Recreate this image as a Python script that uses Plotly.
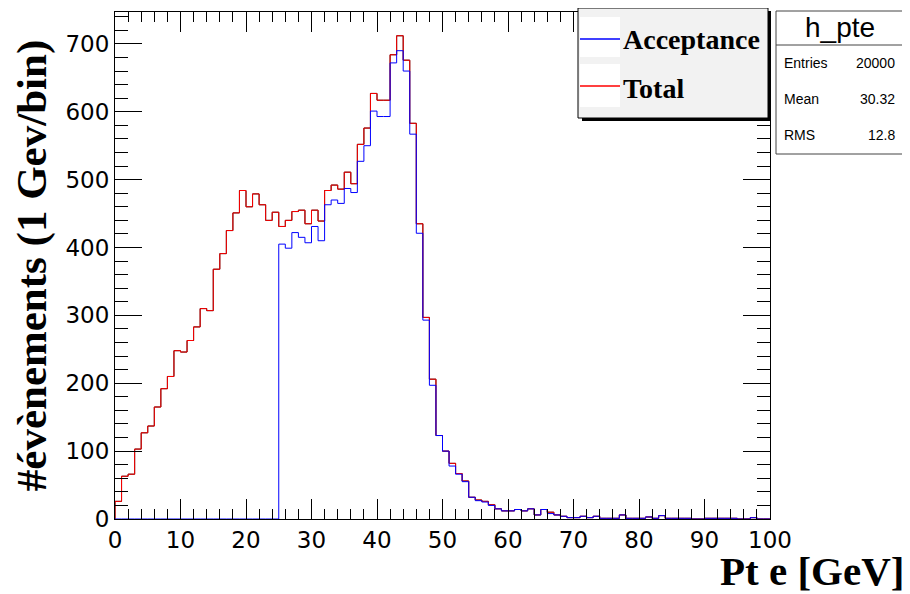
import numpy as np
import plotly.graph_objects as go

# ---- data (1 GeV bins from 0 to 100) ----
bin_low = 0
bin_width = 1
total = [26, 63, 66, 103, 127, 137, 165, 192, 210, 248,
         246, 263, 283, 310, 307, 368, 391, 425, 451, 484,
         460, 479, 463, 440, 452, 431, 440, 453, 455, 435,
         455, 439, 484, 492, 486, 511, 494, 552, 576, 627,
         617, 617, 684, 712, 676, 583, 435, 297, 206, 123,
         100, 82, 67, 56, 32, 28, 26, 21, 15, 12,
         12, 14, 12, 15, 6, 14, 10, 6, 4, 2,
         2, 4, 2, 4, 1, 1, 1, 6, 1, 1,
         1, 3, 1, 5, 1, 1, 1, 1, 0, 0,
         1, 1, 1, 1, 1, 0, 0, 2, 0, 0]
acceptance = [0, 0, 0, 0, 0, 0, 0, 0, 0, 0,
              0, 0, 0, 0, 0, 0, 0, 0, 0, 0,
              0, 0, 0, 0, 0, 405, 399, 422, 415, 407,
              431, 410, 463, 470, 465, 487, 481, 527, 550, 601,
              593, 593, 672, 690, 660, 567, 421, 293, 197, 123,
              100, 78, 66, 55, 32, 27, 25, 20, 15, 12,
              12, 14, 12, 15, 6, 14, 8, 6, 4, 2,
              2, 4, 2, 4, 1, 1, 1, 6, 1, 1,
              1, 3, 1, 5, 1, 1, 1, 1, 0, 0,
              1, 1, 1, 1, 1, 0, 0, 2, 0, 0]
series_names = ["Acceptance", "Total"]
stats_title = "h_pte"
stats_labels = ["Entries", "Mean", "RMS"]
stats_values = ["20000", "30.32", "12.8"]
x_title = "Pt e [GeV]"
y_title = "#évènements (1 Gev/bin)"


def step_xy(vals):
    n = len(vals)
    edges = bin_low + bin_width * np.arange(n + 1)
    xs = [edges[0]] + list(edges[:-1]) + [edges[-1], edges[-1]]
    ys = [0] + list(vals) + [vals[-1], 0]
    return xs, ys


fig = go.Figure()
xs, ys = step_xy(total)
fig.add_trace(go.Scatter(x=xs, y=ys, mode="lines", line=dict(color="black", width=1, shape="hv"),
                         showlegend=False, hoverinfo="skip"))
fig.add_trace(go.Scatter(x=xs, y=ys, mode="lines", line=dict(color="#ff0000", width=1, shape="hv"),
                         name=series_names[1], showlegend=False))
xa, ya = step_xy(acceptance)
fig.add_trace(go.Scatter(x=xa, y=ya, mode="lines", line=dict(color="#0000ff", width=1, shape="hv"),
                         name=series_names[0], showlegend=False))

# page offset (browser body margin)
OFF = 8
W, H = 910 - OFF, 594 - OFF
# frame in screenshot pixels
L, R, T, B = 115, 770, 12, 519


def px(X):
    return (X - L) / (R - L)


def py(Y):
    return (B - Y) / (B - T)


shapes = []
annotations = []
# legend box with shadow
shapes.append(dict(type="rect", xref="paper", yref="paper", x0=px(582), x1=px(771), y0=py(121), y1=py(11),
                   fillcolor="black", line=dict(width=0), layer="above"))
shapes.append(dict(type="rect", xref="paper", yref="paper", x0=px(578), x1=px(768), y0=py(118), y1=py(8),
                   fillcolor="#f2f2f2", line=dict(color="black", width=1), layer="above"))
for (y0, y1, ly, col) in [(17, 57, 39, "#0000ff"), (64, 107, 86, "#ff0000")]:
    shapes.append(dict(type="rect", xref="paper", yref="paper", x0=px(580), x1=px(620), y0=py(y1), y1=py(y0),
                       fillcolor="white", line=dict(width=0), layer="above"))
    shapes.append(dict(type="line", xref="paper", yref="paper", x0=px(580), x1=px(620), y0=py(ly), y1=py(ly),
                       line=dict(color=col, width=1.5), layer="above"))
for name, yc in [(series_names[0], 40), (series_names[1], 88)]:
    annotations.append(dict(text=name, xref="paper", yref="paper", x=px(621), y=py(yc), xanchor="left",
                            yanchor="middle", showarrow=False,
                            font=dict(family="Liberation Serif", size=28, color="black", weight="bold")))
# stats box
shapes.append(dict(type="rect", xref="paper", yref="paper", x0=px(776), x1=px(904), y0=py(154), y1=py(11),
                   fillcolor="white", line=dict(color="#444444", width=1), layer="above"))
shapes.append(dict(type="line", xref="paper", yref="paper", x0=px(776), x1=px(904), y0=py(45), y1=py(45),
                   line=dict(color="#444444", width=1), layer="above"))
annotations.append(dict(text=stats_title, xref="paper", yref="paper", x=px(840), y=py(27), xanchor="center",
                        yanchor="middle", showarrow=False,
                        font=dict(family="Liberation Sans", size=28, color="black")))
for lab, val, yc in zip(stats_labels, stats_values, [63, 99, 135]):
    annotations.append(dict(text=lab, xref="paper", yref="paper", x=px(782), y=py(yc), xanchor="left",
                            yanchor="middle", showarrow=False,
                            font=dict(family="Liberation Sans", size=14, color="black")))
    annotations.append(dict(text=val, xref="paper", yref="paper", x=px(897), y=py(yc), xanchor="right",
                            yanchor="middle", showarrow=False,
                            font=dict(family="Liberation Sans", size=14, color="black")))
# x axis title (right aligned, ROOT style)
annotations.append(dict(text=x_title, xref="paper", yref="paper", x=px(906), y=py(571), xanchor="right",
                        yanchor="middle", showarrow=False,
                        font=dict(family="Liberation Serif", size=41, color="black", weight="bold")))

fig.update_layout(
    width=W, height=H,
    margin=dict(l=L - OFF, r=910 - R, t=T - OFF, b=594 - B, pad=0),
    paper_bgcolor="white", plot_bgcolor="white",
    showlegend=False,
    shapes=shapes, annotations=annotations,
    xaxis=dict(range=[0, 100], dtick=10, tick0=0, ticks="inside", ticklen=20, tickcolor="black",
               showline=True, linecolor="black", linewidth=1, mirror="ticks", showgrid=False, zeroline=False,
               tickfont=dict(family="DejaVu Sans", size=23, color="black"),
               minor=dict(dtick=2, ticks="inside", ticklen=10, tickcolor="black", showgrid=False),
               automargin=False),
    yaxis=dict(range=[0, 747], dtick=100, tick0=0, ticks="inside", ticklen=27, tickcolor="black",
               showline=True, linecolor="black", linewidth=1, mirror="ticks", showgrid=False, zeroline=False,
               tickfont=dict(family="DejaVu Sans", size=23, color="black"),
               minor=dict(dtick=20, ticks="inside", ticklen=13, tickcolor="black", showgrid=False),
               title=dict(text=y_title, standoff=11,
                          font=dict(family="Liberation Serif", size=43, color="black", weight="bold")),
               automargin=False),
)

fig.write_html("out.html")
